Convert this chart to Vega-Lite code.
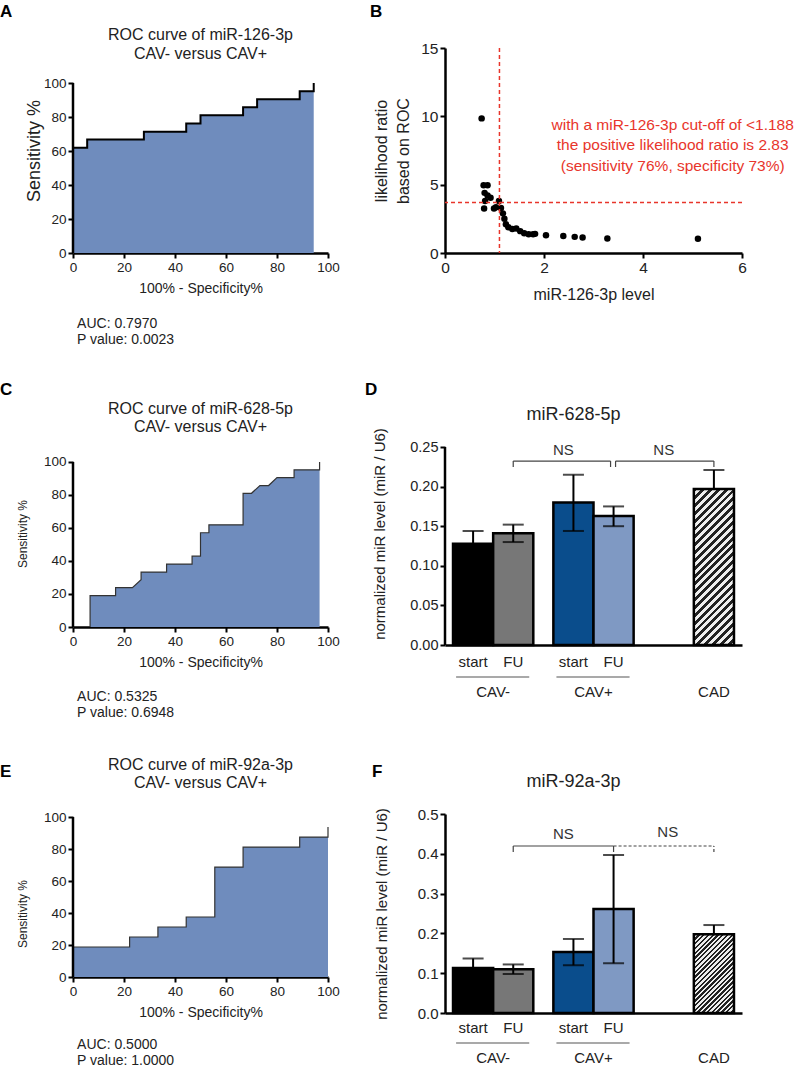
{
"$schema": "https://vega.github.io/schema/vega-lite/v6.json",
"usermeta": {"embedOptions": {"actions": false}},
"padding": {"left": 0, "top": 2, "right": 5, "bottom": 5},
"columns": 2,
"spacing": {"row": 169, "column": 117},
"bounds": "flush",
"align": "each",
"datasets": {
"rocA": [{"x":0,"y":61.9},{"x":5.56,"y":61.9},{"x":5.56,"y":66.7},{"x":27.8,"y":66.7},{"x":27.8,"y":71.4},{"x":44.4,"y":71.4},{"x":44.4,"y":76.2},{"x":50,"y":76.2},{"x":50,"y":81},{"x":66.7,"y":81},{"x":66.7,"y":85.7},{"x":72.2,"y":85.7},{"x":72.2,"y":90.5},{"x":88.9,"y":90.5},{"x":88.9,"y":95.2},{"x":94.4,"y":95.2},{"x":94.4,"y":100}],
"rocC": [{"x":6.7,"y":0},{"x":6.7,"y":19},{"x":16.7,"y":19},{"x":16.7,"y":23.8},{"x":23.3,"y":23.8},{"x":26.7,"y":28.6},{"x":26.7,"y":33.3},{"x":36.7,"y":33.3},{"x":36.7,"y":38.1},{"x":46.7,"y":38.1},{"x":46.7,"y":42.9},{"x":50,"y":42.9},{"x":50,"y":57.1},{"x":53.3,"y":57.1},{"x":53.3,"y":61.9},{"x":66.7,"y":61.9},{"x":66.7,"y":81},{"x":70,"y":81},{"x":73.3,"y":85.7},{"x":76.7,"y":85.7},{"x":80,"y":90.5},{"x":86.7,"y":90.5},{"x":86.7,"y":95.2},{"x":96.7,"y":95.2},{"x":96.7,"y":100}],
"rocE": [{"x":0,"y":18.75},{"x":22.2,"y":18.75},{"x":22.2,"y":25},{"x":33.3,"y":25},{"x":33.3,"y":31.25},{"x":44.4,"y":31.25},{"x":44.4,"y":37.5},{"x":55.6,"y":37.5},{"x":55.6,"y":68.75},{"x":66.7,"y":68.75},{"x":66.7,"y":81.25},{"x":88.9,"y":81.25},{"x":88.9,"y":87.5},{"x":100,"y":87.5},{"x":100,"y":93.75}],
"lr": [{"level":0.74,"lr":9.85},{"level":0.78,"lr":4.95},{"level":0.86,"lr":4.95},{"level":0.8,"lr":4.4},{"level":0.81,"lr":3.8},{"level":0.79,"lr":3.25},{"level":0.86,"lr":4.2},{"level":0.92,"lr":4.05},{"level":0.99,"lr":3.25},{"level":1.03,"lr":3.35},{"level":1.09,"lr":3.8},{"level":1.13,"lr":3.3},{"level":1.17,"lr":2.9},{"level":1.2,"lr":2.5},{"level":1.23,"lr":2.1},{"level":1.28,"lr":1.88},{"level":1.36,"lr":1.75},{"level":1.44,"lr":1.8},{"level":1.52,"lr":1.6},{"level":1.6,"lr":1.45},{"level":1.69,"lr":1.37},{"level":1.78,"lr":1.37},{"level":1.82,"lr":1.4},{"level":2.04,"lr":1.3},{"level":2.39,"lr":1.25},{"level":2.62,"lr":1.18},{"level":2.78,"lr":1.13},{"level":3.28,"lr":1.06},{"level":5.11,"lr":1.05}],
"d628": [{"group":"CAV- start","mean":0.128,"lo":0.112,"hi":0.144},{"group":"CAV- FU","mean":0.141,"lo":0.130,"hi":0.152},{"group":"CAV+ start","mean":0.180,"lo":0.144,"hi":0.215},{"group":"CAV+ FU","mean":0.163,"lo":0.150,"hi":0.175},{"group":"CAD","mean":0.197,"lo":0.197,"hi":0.221}],
"d92": [{"group":"CAV- start","mean":0.113,"lo":0.089,"hi":0.137},{"group":"CAV- FU","mean":0.110,"lo":0.098,"hi":0.122},{"group":"CAV+ start","mean":0.153,"lo":0.120,"hi":0.186},{"group":"CAV+ FU","mean":0.261,"lo":0.125,"hi":0.397},{"group":"CAD","mean":0.198,"lo":0.198,"hi":0.221}],
"sub": [{"c":"CAV- start","t":"start"},{"c":"CAV- FU","t":"FU"},{"c":"CAV+ start","t":"start"},{"c":"CAV+ FU","t":"FU"}],
"grp": [{"c":"_1","t":"CAV-"},{"c":"_6","t":"CAV+"},{"c":"CAD","t":"CAD"}],
"grpl": [{"a":"CAV- start","b":"CAV- FU"},{"a":"CAV+ start","b":"CAV+ FU"}]
},
"concat": [
{
"width": 255, "height": 205,
"layer": [
{"data": {"name": "rocA"}, "mark": {"type": "area", "color": "#6f8cbd"},
 "encoding": {
  "x": {"field": "x", "type": "quantitative", "scale": {"domain": [0, 100], "nice": false}, "axis": {"values": [0,20,40,60,80,100], "format": "d", "title": "100% - Specificity%", "titlePadding": 8}},
  "y": {"field": "y", "type": "quantitative", "scale": {"domain": [0, 120.6], "nice": false}, "axis": {"values": [0,20,40,60,80,100], "format": "d", "domain": false, "title": "Sensitivity %", "titleFontSize": 18, "titlePadding": 0}},
  "y2": {"datum": 0}}},
{"data": {"name": "rocA"}, "mark": {"type": "line", "color": "#000", "strokeWidth": 2},
 "encoding": {"x": {"field": "x", "type": "quantitative"}, "y": {"field": "y", "type": "quantitative"}}},
{"data": {"values": [{}]}, "mark": {"type": "rule", "color": "#000", "strokeWidth": 2.5},
 "encoding": {"x": {"datum": 0}, "y": {"datum": 0}, "y2": {"datum": 100}}},
{"data": {"values": [{}]}, "mark": {"type": "text", "fontSize": 16, "lineHeight": 19, "baseline": "middle", "color": "#222"},
 "encoding": {"x": {"datum": 50}, "y": {"datum": 128.2}, "text": {"value": ["ROC curve of miR-126-3p", "CAV- versus CAV+"]}}},
{"data": {"values": [{}]}, "mark": {"type": "text", "fontSize": 14, "lineHeight": 16, "align": "left", "baseline": "middle", "color": "#222"},
 "encoding": {"x": {"datum": 1.6}, "y": {"datum": -41.8}, "text": {"value": ["AUC: 0.7970", "P value: 0.0023"]}}},
{"data": {"values": [{}]}, "mark": {"type": "text", "fontSize": 17, "fontWeight": "bold", "align": "left", "baseline": "alphabetic", "color": "#000"},
 "encoding": {"x": {"datum": -28.6}, "y": {"datum": 138.8}, "text": {"value": "A"}}}
]
},
{
"width": 297, "height": 205,
"layer": [
{"data": {"name": "lr"}, "mark": {"type": "circle", "color": "#000", "size": 42, "opacity": 1},
 "encoding": {
  "x": {"field": "level", "type": "quantitative", "scale": {"domain": [0, 6], "nice": false}, "axis": {"values": [0,2,4,6], "format": "d", "title": "miR-126-3p level", "labelFontSize": 15.5, "titleFontSize": 16, "titlePadding": 11}},
  "y": {"field": "lr", "type": "quantitative", "scale": {"domain": [0, 15], "nice": false}, "axis": {"values": [0,5,10,15], "format": "d", "title": ["likelihood ratio", "based on ROC"], "labelFontSize": 15.5, "titleFontSize": 16, "titleLineHeight": 22, "titlePadding": 9}}}},
{"data": {"values": [{}]}, "mark": {"type": "rule", "color": "#e8352b", "strokeDash": [4, 3], "strokeWidth": 1.5}, "encoding": {"x": {"datum": 1.1}}},
{"data": {"values": [{}]}, "mark": {"type": "rule", "color": "#e8352b", "strokeDash": [4, 3], "strokeWidth": 1.5}, "encoding": {"y": {"datum": 3.7}}},
{"data": {"values": [{}]}, "mark": {"type": "text", "fontSize": 15.5, "lineHeight": 20.5, "baseline": "middle", "color": "#e8352b"},
 "encoding": {"x": {"datum": 4.6}, "y": {"datum": 9.37}, "text": {"value": ["with a miR-126-3p cut-off of <1.188", "the positive likelihood ratio is 2.83", "(sensitivity 76%, specificity 73%)"]}}},
{"data": {"values": [{}]}, "mark": {"type": "text", "fontSize": 17, "fontWeight": "bold", "align": "left", "baseline": "alphabetic", "color": "#000"},
 "encoding": {"x": {"datum": -1.515}, "y": {"datum": 17.27}, "text": {"value": "B"}}}
]
},
{
"width": 255, "height": 223,
"layer": [
{"data": {"name": "rocC"}, "mark": {"type": "area", "color": "#6f8cbd"},
 "encoding": {
  "x": {"field": "x", "type": "quantitative", "scale": {"domain": [0, 100], "nice": false}, "axis": {"values": [0,20,40,60,80,100], "format": "d", "title": "100% - Specificity%", "titlePadding": 8, "offset": -18}},
  "y": {"field": "y", "type": "quantitative", "scale": {"domain": [-10.9, 124.2], "nice": false, "zero": false}, "axis": {"values": [0,20,40,60,80,100], "format": "d", "domain": false, "title": "Sensitivity %", "titleFontSize": 12, "titlePadding": 14}},
  "y2": {"datum": 0}}},
{"data": {"name": "rocC"}, "mark": {"type": "line", "color": "#333", "strokeWidth": 1.2},
 "encoding": {"x": {"field": "x", "type": "quantitative"}, "y": {"field": "y", "type": "quantitative"}}},
{"data": {"values": [{}]}, "mark": {"type": "rule", "color": "#000", "strokeWidth": 2.5},
 "encoding": {"x": {"datum": 0}, "y": {"datum": 0}, "y2": {"datum": 100}}},
{"data": {"values": [{}]}, "mark": {"type": "text", "fontSize": 16, "lineHeight": 18, "baseline": "middle", "color": "#222"},
 "encoding": {"x": {"datum": 50}, "y": {"datum": 132.1}, "text": {"value": ["ROC curve of miR-628-5p", "CAV- versus CAV+"]}}},
{"data": {"values": [{}]}, "mark": {"type": "text", "fontSize": 14, "lineHeight": 16, "align": "left", "baseline": "middle", "color": "#222"},
 "encoding": {"x": {"datum": 1.6}, "y": {"datum": -42.4}, "text": {"value": ["AUC: 0.5325", "P value: 0.6948"]}}},
{"data": {"values": [{}]}, "mark": {"type": "text", "fontSize": 17, "fontWeight": "bold", "align": "left", "baseline": "alphabetic", "color": "#000"},
 "encoding": {"x": {"datum": -28.6}, "y": {"datum": 140.6}, "text": {"value": "C"}}}
]
},
{
"width": 297, "height": 223,
"layer": [
{"data": {"name": "d628"}, "transform": [{"filter": "datum.group != 'CAD'"}],
 "mark": {"type": "bar", "width": {"band": 2}, "stroke": "#000", "strokeWidth": 2.5},
 "encoding": {
  "x": {"field": "group", "type": "nominal", "scale": {"domain": ["CAV- start","_1","CAV- FU","_3","_4","CAV+ start","_6","CAV+ FU","_8","_9","_10","_11","CAD"], "paddingInner": 0, "paddingOuter": 0.9}, "axis": {"labels": false, "ticks": false, "title": null}},
  "y": {"field": "mean", "type": "quantitative", "scale": {"domain": [0, 0.2816], "nice": false}, "axis": {"values": [0, 0.05, 0.1, 0.15, 0.2, 0.25], "format": ".2f", "domain": false, "title": "normalized miR level (miR / U6)", "titleFontSize": 15, "labelFontSize": 14.5, "titlePadding": 22}},
  "fill": {"field": "group", "type": "nominal", "scale": {"domain": ["CAV- start","CAV- FU","CAV+ start","CAV+ FU"], "range": ["#000000","#777777","#0a4d8c","#7f99c3"]}, "legend": null}}},
{"data": {"name": "d628"}, "transform": [{"filter": "datum.group == 'CAD'"}],
 "mark": {"type": "bar", "width": {"band": 2}, "stroke": "#000", "strokeWidth": 2.5,
  "fill": {"gradient": "linear", "x1": 0, "y1": 0, "x2": 0.3034, "y2": 1.1792, "stops": [
{"offset":0,"color":"#222"},
{"offset":0.02,"color":"#222"},{"offset":0.02,"color":"#eee"},
{"offset":0.04,"color":"#eee"},{"offset":0.04,"color":"#222"},
{"offset":0.06,"color":"#222"},{"offset":0.06,"color":"#eee"},
{"offset":0.08,"color":"#eee"},{"offset":0.08,"color":"#222"},
{"offset":0.1,"color":"#222"},{"offset":0.1,"color":"#eee"},
{"offset":0.12,"color":"#eee"},{"offset":0.12,"color":"#222"},
{"offset":0.14,"color":"#222"},{"offset":0.14,"color":"#eee"},
{"offset":0.16,"color":"#eee"},{"offset":0.16,"color":"#222"},
{"offset":0.18,"color":"#222"},{"offset":0.18,"color":"#eee"},
{"offset":0.2,"color":"#eee"},{"offset":0.2,"color":"#222"},
{"offset":0.22,"color":"#222"},{"offset":0.22,"color":"#eee"},
{"offset":0.24,"color":"#eee"},{"offset":0.24,"color":"#222"},
{"offset":0.26,"color":"#222"},{"offset":0.26,"color":"#eee"},
{"offset":0.28,"color":"#eee"},{"offset":0.28,"color":"#222"},
{"offset":0.3,"color":"#222"},{"offset":0.3,"color":"#eee"},
{"offset":0.32,"color":"#eee"},{"offset":0.32,"color":"#222"},
{"offset":0.34,"color":"#222"},{"offset":0.34,"color":"#eee"},
{"offset":0.36,"color":"#eee"},{"offset":0.36,"color":"#222"},
{"offset":0.38,"color":"#222"},{"offset":0.38,"color":"#eee"},
{"offset":0.4,"color":"#eee"},{"offset":0.4,"color":"#222"},
{"offset":0.42,"color":"#222"},{"offset":0.42,"color":"#eee"},
{"offset":0.44,"color":"#eee"},{"offset":0.44,"color":"#222"},
{"offset":0.46,"color":"#222"},{"offset":0.46,"color":"#eee"},
{"offset":0.48,"color":"#eee"},{"offset":0.48,"color":"#222"},
{"offset":0.5,"color":"#222"},{"offset":0.5,"color":"#eee"},
{"offset":0.52,"color":"#eee"},{"offset":0.52,"color":"#222"},
{"offset":0.54,"color":"#222"},{"offset":0.54,"color":"#eee"},
{"offset":0.56,"color":"#eee"},{"offset":0.56,"color":"#222"},
{"offset":0.58,"color":"#222"},{"offset":0.58,"color":"#eee"},
{"offset":0.6,"color":"#eee"},{"offset":0.6,"color":"#222"},
{"offset":0.62,"color":"#222"},{"offset":0.62,"color":"#eee"},
{"offset":0.64,"color":"#eee"},{"offset":0.64,"color":"#222"},
{"offset":0.66,"color":"#222"},{"offset":0.66,"color":"#eee"},
{"offset":0.68,"color":"#eee"},{"offset":0.68,"color":"#222"},
{"offset":0.7,"color":"#222"},{"offset":0.7,"color":"#eee"},
{"offset":0.72,"color":"#eee"},{"offset":0.72,"color":"#222"},
{"offset":0.74,"color":"#222"},{"offset":0.74,"color":"#eee"},
{"offset":0.76,"color":"#eee"},{"offset":0.76,"color":"#222"},
{"offset":0.78,"color":"#222"},{"offset":0.78,"color":"#eee"},
{"offset":0.8,"color":"#eee"},{"offset":0.8,"color":"#222"},
{"offset":0.82,"color":"#222"},{"offset":0.82,"color":"#eee"},
{"offset":0.84,"color":"#eee"},{"offset":0.84,"color":"#222"},
{"offset":0.86,"color":"#222"},{"offset":0.86,"color":"#eee"},
{"offset":0.88,"color":"#eee"},{"offset":0.88,"color":"#222"},
{"offset":0.9,"color":"#222"},{"offset":0.9,"color":"#eee"},
{"offset":0.92,"color":"#eee"},{"offset":0.92,"color":"#222"},
{"offset":0.94,"color":"#222"},{"offset":0.94,"color":"#eee"},
{"offset":0.96,"color":"#eee"},{"offset":0.96,"color":"#222"},
{"offset":0.98,"color":"#222"},{"offset":0.98,"color":"#eee"},
{"offset":1,"color":"#eee"}]}},
 "encoding": {"x": {"field": "group", "type": "nominal", "title": null}, "y": {"field": "mean", "type": "quantitative"}}},
{"data": {"name": "d628"}, "mark": {"type": "rule", "color": "#000", "strokeWidth": 2},
 "encoding": {"x": {"field": "group", "type": "nominal", "title": null}, "y": {"field": "lo", "type": "quantitative"}, "y2": {"field": "hi"}}},
{"data": {"name": "d628"}, "mark": {"type": "tick", "color": "#000", "size": 21, "thickness": 2},
 "encoding": {"x": {"field": "group", "type": "nominal", "title": null}, "y": {"field": "hi", "type": "quantitative"}}},
{"data": {"name": "d628"}, "mark": {"type": "tick", "color": "#000", "size": 21, "thickness": 2},
 "encoding": {"x": {"field": "group", "type": "nominal", "title": null}, "y": {"field": "lo", "type": "quantitative"}}},
{"data": {"values": [{}]}, "mark": {"type": "rule", "color": "#000", "strokeWidth": 2.5},
 "encoding": {"x": {"datum": "CAV- start", "bandPosition": -0.9}, "y": {"datum": 0}, "y2": {"datum": 0.25}}},
{"data": {"values": [{}]}, "mark": {"type": "rule", "color": "#444", "strokeWidth": 1.2, "x2Offset": -3},
 "encoding": {"x": {"datum": "CAV- FU"}, "x2": {"datum": "CAV+ FU"}, "y": {"datum": 0.2323}}},
{"data": {"values": [{}]}, "mark": {"type": "rule", "color": "#444", "strokeWidth": 1.2, "xOffset": 2},
 "encoding": {"x": {"datum": "CAV+ FU"}, "x2": {"datum": "CAD"}, "y": {"datum": 0.2323}}},
{"data": {"values": [{"c": "CAV- FU"}, {"c": "CAD"}]}, "mark": {"type": "rule", "color": "#444", "strokeWidth": 1.2},
 "encoding": {"x": {"field": "c", "type": "nominal", "title": null}, "y": {"datum": 0.2248}, "y2": {"datum": 0.2323}}},
{"data": {"values": [{}]}, "mark": {"type": "rule", "color": "#444", "strokeWidth": 1.2, "xOffset": -3},
 "encoding": {"x": {"datum": "CAV+ FU"}, "y": {"datum": 0.2248}, "y2": {"datum": 0.2323}}},
{"data": {"values": [{}]}, "mark": {"type": "rule", "color": "#444", "strokeWidth": 1.2, "xOffset": 2},
 "encoding": {"x": {"datum": "CAV+ FU"}, "y": {"datum": 0.2248}, "y2": {"datum": 0.2323}}},
{"data": {"values": [{}]}, "mark": {"type": "text", "fontSize": 15, "color": "#333", "baseline": "middle"},
 "encoding": {"x": {"datum": "CAV+ start", "bandPosition": 0}, "y": {"datum": 0.2462}, "text": {"value": "NS"}}},
{"data": {"values": [{}]}, "mark": {"type": "text", "fontSize": 15, "color": "#333", "baseline": "middle"},
 "encoding": {"x": {"datum": "_10", "bandPosition": 0}, "y": {"datum": 0.2462}, "text": {"value": "NS"}}},
{"data": {"name": "sub"}, "mark": {"type": "text", "fontSize": 15, "color": "#222", "baseline": "middle"},
 "encoding": {"x": {"field": "c", "type": "nominal", "title": null}, "y": {"datum": -0.0215}, "text": {"field": "t"}}},
{"data": {"name": "grp"}, "mark": {"type": "text", "fontSize": 15, "color": "#222", "baseline": "middle"},
 "encoding": {"x": {"field": "c", "type": "nominal", "title": null}, "y": {"datum": -0.0593}, "text": {"field": "t"}}},
{"data": {"name": "grpl"}, "mark": {"type": "rule", "color": "#555", "strokeWidth": 1.2, "xOffset": -17, "x2Offset": 16},
 "encoding": {"x": {"field": "a", "type": "nominal", "title": null}, "x2": {"field": "b"}, "y": {"datum": -0.0404}}},
{"data": {"values": [{}]}, "mark": {"type": "text", "fontSize": 18, "color": "#222", "baseline": "middle"},
 "encoding": {"x": {"datum": "CAV+ start"}, "y": {"datum": 0.2904}, "text": {"value": "miR-628-5p"}}},
{"data": {"values": [{}]}, "mark": {"type": "text", "fontSize": 17, "fontWeight": "bold", "align": "left", "baseline": "alphabetic", "color": "#000"},
 "encoding": {"x": {"datum": "CAV- start", "bandPosition": -4.886}, "y": {"datum": 0.3157}, "text": {"value": "D"}}}
]
},
{
"width": 255, "height": 199,
"layer": [
{"data": {"name": "rocE"}, "mark": {"type": "area", "color": "#6f8cbd"},
 "encoding": {
  "x": {"field": "x", "type": "quantitative", "scale": {"domain": [0, 100], "nice": false}, "axis": {"values": [0,20,40,60,80,100], "format": "d", "title": "100% - Specificity%", "titlePadding": 8, "offset": -36}},
  "y": {"field": "y", "type": "quantitative", "scale": {"domain": [-22.5, 101.9], "nice": false, "zero": false}, "axis": {"values": [0,20,40,60,80,100], "format": "d", "domain": false, "title": "Sensitivity %", "titleFontSize": 12, "titlePadding": 14}},
  "y2": {"datum": 0}}},
{"data": {"name": "rocE"}, "mark": {"type": "line", "color": "#333", "strokeWidth": 1.2},
 "encoding": {"x": {"field": "x", "type": "quantitative"}, "y": {"field": "y", "type": "quantitative"}}},
{"data": {"values": [{}]}, "mark": {"type": "rule", "color": "#000", "strokeWidth": 2.5},
 "encoding": {"x": {"datum": 0}, "y": {"datum": 0}, "y2": {"datum": 100}}},
{"data": {"values": [{}]}, "mark": {"type": "text", "fontSize": 16, "lineHeight": 18, "baseline": "middle", "color": "#222"},
 "encoding": {"x": {"datum": 50}, "y": {"datum": 132.5}, "text": {"value": ["ROC curve of miR-92a-3p", "CAV- versus CAV+"]}}},
{"data": {"values": [{}]}, "mark": {"type": "text", "fontSize": 14, "lineHeight": 16, "align": "left", "baseline": "middle", "color": "#222"},
 "encoding": {"x": {"datum": 1.6}, "y": {"datum": -42.5}, "text": {"value": ["AUC: 0.5000", "P value: 1.0000"]}}},
{"data": {"values": [{}]}, "mark": {"type": "text", "fontSize": 17, "fontWeight": "bold", "align": "left", "baseline": "alphabetic", "color": "#000"},
 "encoding": {"x": {"datum": -28.6}, "y": {"datum": 125.0}, "text": {"value": "E"}}}
]
},
{
"width": 297, "height": 199,
"layer": [
{"data": {"name": "d92"}, "transform": [{"filter": "datum.group != 'CAD'"}],
 "mark": {"type": "bar", "width": {"band": 2}, "stroke": "#000", "strokeWidth": 2.5},
 "encoding": {
  "x": {"field": "group", "type": "nominal", "scale": {"domain": ["CAV- start","_1","CAV- FU","_3","_4","CAV+ start","_6","CAV+ FU","_8","_9","_10","_11","CAD"], "paddingInner": 0, "paddingOuter": 0.9}, "axis": {"labels": false, "ticks": false, "title": null}},
  "y": {"field": "mean", "type": "quantitative", "scale": {"domain": [0, 0.5], "nice": false}, "axis": {"values": [0, 0.1, 0.2, 0.3, 0.4, 0.5], "format": ".1f", "title": "normalized miR level (miR / U6)", "titleFontSize": 15, "labelFontSize": 15, "titlePadding": 28}},
  "fill": {"field": "group", "type": "nominal", "scale": {"domain": ["CAV- start","CAV- FU","CAV+ start","CAV+ FU"], "range": ["#000000","#777777","#0a4d8c","#7f99c3"]}, "legend": null}}},
{"data": {"name": "d92"}, "transform": [{"filter": "datum.group == 'CAD'"}],
 "mark": {"type": "bar", "width": {"band": 2}, "stroke": "#000", "strokeWidth": 2.5,
  "fill": {"gradient": "linear", "x1": 0, "y1": 0, "x2": 0.6105, "y2": 1.1984, "stops": [
{"offset":0,"color":"#222"},
{"offset":0.02,"color":"#222"},{"offset":0.02,"color":"#eee"},
{"offset":0.04,"color":"#eee"},{"offset":0.04,"color":"#222"},
{"offset":0.06,"color":"#222"},{"offset":0.06,"color":"#eee"},
{"offset":0.08,"color":"#eee"},{"offset":0.08,"color":"#222"},
{"offset":0.1,"color":"#222"},{"offset":0.1,"color":"#eee"},
{"offset":0.12,"color":"#eee"},{"offset":0.12,"color":"#222"},
{"offset":0.14,"color":"#222"},{"offset":0.14,"color":"#eee"},
{"offset":0.16,"color":"#eee"},{"offset":0.16,"color":"#222"},
{"offset":0.18,"color":"#222"},{"offset":0.18,"color":"#eee"},
{"offset":0.2,"color":"#eee"},{"offset":0.2,"color":"#222"},
{"offset":0.22,"color":"#222"},{"offset":0.22,"color":"#eee"},
{"offset":0.24,"color":"#eee"},{"offset":0.24,"color":"#222"},
{"offset":0.26,"color":"#222"},{"offset":0.26,"color":"#eee"},
{"offset":0.28,"color":"#eee"},{"offset":0.28,"color":"#222"},
{"offset":0.3,"color":"#222"},{"offset":0.3,"color":"#eee"},
{"offset":0.32,"color":"#eee"},{"offset":0.32,"color":"#222"},
{"offset":0.34,"color":"#222"},{"offset":0.34,"color":"#eee"},
{"offset":0.36,"color":"#eee"},{"offset":0.36,"color":"#222"},
{"offset":0.38,"color":"#222"},{"offset":0.38,"color":"#eee"},
{"offset":0.4,"color":"#eee"},{"offset":0.4,"color":"#222"},
{"offset":0.42,"color":"#222"},{"offset":0.42,"color":"#eee"},
{"offset":0.44,"color":"#eee"},{"offset":0.44,"color":"#222"},
{"offset":0.46,"color":"#222"},{"offset":0.46,"color":"#eee"},
{"offset":0.48,"color":"#eee"},{"offset":0.48,"color":"#222"},
{"offset":0.5,"color":"#222"},{"offset":0.5,"color":"#eee"},
{"offset":0.52,"color":"#eee"},{"offset":0.52,"color":"#222"},
{"offset":0.54,"color":"#222"},{"offset":0.54,"color":"#eee"},
{"offset":0.56,"color":"#eee"},{"offset":0.56,"color":"#222"},
{"offset":0.58,"color":"#222"},{"offset":0.58,"color":"#eee"},
{"offset":0.6,"color":"#eee"},{"offset":0.6,"color":"#222"},
{"offset":0.62,"color":"#222"},{"offset":0.62,"color":"#eee"},
{"offset":0.64,"color":"#eee"},{"offset":0.64,"color":"#222"},
{"offset":0.66,"color":"#222"},{"offset":0.66,"color":"#eee"},
{"offset":0.68,"color":"#eee"},{"offset":0.68,"color":"#222"},
{"offset":0.7,"color":"#222"},{"offset":0.7,"color":"#eee"},
{"offset":0.72,"color":"#eee"},{"offset":0.72,"color":"#222"},
{"offset":0.74,"color":"#222"},{"offset":0.74,"color":"#eee"},
{"offset":0.76,"color":"#eee"},{"offset":0.76,"color":"#222"},
{"offset":0.78,"color":"#222"},{"offset":0.78,"color":"#eee"},
{"offset":0.8,"color":"#eee"},{"offset":0.8,"color":"#222"},
{"offset":0.82,"color":"#222"},{"offset":0.82,"color":"#eee"},
{"offset":0.84,"color":"#eee"},{"offset":0.84,"color":"#222"},
{"offset":0.86,"color":"#222"},{"offset":0.86,"color":"#eee"},
{"offset":0.88,"color":"#eee"},{"offset":0.88,"color":"#222"},
{"offset":0.9,"color":"#222"},{"offset":0.9,"color":"#eee"},
{"offset":0.92,"color":"#eee"},{"offset":0.92,"color":"#222"},
{"offset":0.94,"color":"#222"},{"offset":0.94,"color":"#eee"},
{"offset":0.96,"color":"#eee"},{"offset":0.96,"color":"#222"},
{"offset":0.98,"color":"#222"},{"offset":0.98,"color":"#eee"},
{"offset":1,"color":"#eee"}]}},
 "encoding": {"x": {"field": "group", "type": "nominal", "title": null}, "y": {"field": "mean", "type": "quantitative"}}},
{"data": {"name": "d92"}, "mark": {"type": "rule", "color": "#000", "strokeWidth": 2},
 "encoding": {"x": {"field": "group", "type": "nominal", "title": null}, "y": {"field": "lo", "type": "quantitative"}, "y2": {"field": "hi"}}},
{"data": {"name": "d92"}, "mark": {"type": "tick", "color": "#000", "size": 21, "thickness": 2},
 "encoding": {"x": {"field": "group", "type": "nominal", "title": null}, "y": {"field": "hi", "type": "quantitative"}}},
{"data": {"name": "d92"}, "mark": {"type": "tick", "color": "#000", "size": 21, "thickness": 2},
 "encoding": {"x": {"field": "group", "type": "nominal", "title": null}, "y": {"field": "lo", "type": "quantitative"}}},
{"data": {"values": [{}]}, "mark": {"type": "rule", "color": "#444", "strokeWidth": 1.2},
 "encoding": {"x": {"datum": "CAV- FU"}, "x2": {"datum": "CAV+ FU"}, "y": {"datum": 0.4196}}},
{"data": {"values": [{}]}, "mark": {"type": "rule", "color": "#444", "strokeWidth": 1.2, "strokeDash": [3, 2]},
 "encoding": {"x": {"datum": "CAV+ FU"}, "x2": {"datum": "CAD"}, "y": {"datum": 0.4196}}},
{"data": {"values": [{"c": "CAV- FU"}, {"c": "CAV+ FU"}]}, "mark": {"type": "rule", "color": "#444", "strokeWidth": 1.2},
 "encoding": {"x": {"field": "c", "type": "nominal", "title": null}, "y": {"datum": 0.4045}, "y2": {"datum": 0.4196}}},
{"data": {"values": [{}]}, "mark": {"type": "rule", "color": "#444", "strokeWidth": 1.2, "strokeDash": [3, 2]},
 "encoding": {"x": {"datum": "CAD"}, "y": {"datum": 0.4045}, "y2": {"datum": 0.4196}}},
{"data": {"values": [{}]}, "mark": {"type": "text", "fontSize": 15, "color": "#333", "baseline": "middle"},
 "encoding": {"x": {"datum": "CAV+ start", "bandPosition": 0}, "y": {"datum": 0.4497}, "text": {"value": "NS"}}},
{"data": {"values": [{}]}, "mark": {"type": "text", "fontSize": 15, "color": "#333", "baseline": "middle"},
 "encoding": {"x": {"datum": "_10", "bandPosition": 0.2}, "y": {"datum": 0.4547}, "text": {"value": "NS"}}},
{"data": {"name": "sub"}, "mark": {"type": "text", "fontSize": 15, "color": "#222", "baseline": "middle"},
 "encoding": {"x": {"field": "c", "type": "nominal", "title": null}, "y": {"datum": -0.0377}, "text": {"field": "t"}}},
{"data": {"name": "grp"}, "mark": {"type": "text", "fontSize": 15, "color": "#222", "baseline": "middle"},
 "encoding": {"x": {"field": "c", "type": "nominal", "title": null}, "y": {"datum": -0.1131}, "text": {"field": "t"}}},
{"data": {"name": "grpl"}, "mark": {"type": "rule", "color": "#555", "strokeWidth": 1.2, "xOffset": -17, "x2Offset": 16},
 "encoding": {"x": {"field": "a", "type": "nominal", "title": null}, "x2": {"field": "b"}, "y": {"datum": -0.0754}}},
{"data": {"values": [{}]}, "mark": {"type": "text", "fontSize": 18, "color": "#222", "baseline": "middle"},
 "encoding": {"x": {"datum": "CAV+ start"}, "y": {"datum": 0.5804}, "text": {"value": "miR-92a-3p"}}},
{"data": {"values": [{}]}, "mark": {"type": "text", "fontSize": 17, "fontWeight": "bold", "align": "left", "baseline": "alphabetic", "color": "#000"},
 "encoding": {"x": {"datum": "CAV- start", "bandPosition": -4.537}, "y": {"datum": 0.593}, "text": {"value": "F"}}}
]
}
],
"config": {
 "font": "Liberation Sans",
 "view": {"stroke": null},
 "text": {"font": "Liberation Sans"},
 "axis": {"grid": false, "domainColor": "#000", "domainWidth": 2.5, "tickColor": "#000", "tickWidth": 2, "tickSize": 5, "tickCount": 20, "labelColor": "#222", "labelFontSize": 13.5, "labelFont": "Liberation Sans", "labelFlush": false, "labelOverlap": false, "labelPadding": 2, "titleFont": "Liberation Sans", "titleFontWeight": "normal", "titleColor": "#222", "titleFontSize": 14}
}
}
